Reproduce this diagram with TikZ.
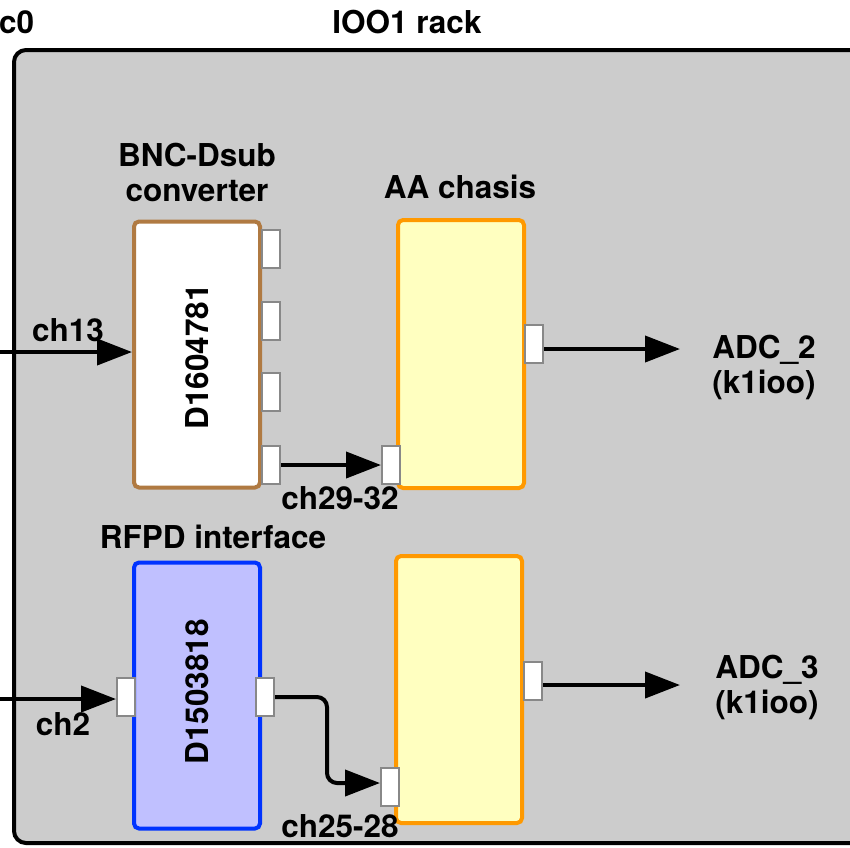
\documentclass[tikz,border=0pt]{standalone}
\usepackage{fontspec}
\setmainfont{TeX Gyre Heros}
\usetikzlibrary{arrows.meta}

\definecolor{rackgray}{HTML}{CCCCCC}
\definecolor{bncbrown}{RGB}{176,122,66}
\definecolor{aaorange}{HTML}{FF9900}
\definecolor{aafill}{HTML}{FFFFC0}
\definecolor{rfpdblue}{HTML}{0033FF}
\definecolor{rfpdfill}{HTML}{C0C0FF}
\definecolor{portgray}{HTML}{888888}

\begin{document}
\begin{tikzpicture}[x=1pt, y=-1pt,
    every node/.style={font=\fontsize{31.5}{35}\selectfont\bfseries, inner sep=0pt},
    box/.style={draw, line width=4pt, rounded corners=5pt, minimum width=126pt, minimum height=266pt},
    port/.style={draw=portgray, fill=white, line width=2pt, minimum width=18pt, minimum height=38pt},
    sig/.style={line width=4pt, -{Triangle[length=35pt,width=26pt]}},
    txt/.style={align=center}]
    \useasboundingbox (0,0) rectangle (850,847);
    \clip (0,0) rectangle (850,847);
    % rack
    \draw [line width=4pt, fill=rackgray, rounded corners=12pt] (14,50) rectangle (880,843);
    \node [anchor=west] (rackname) at (-1,22) {c0};
    \node (racktitle) at (407,22) {IOO1 rack};
    % boxes
    \node [box, draw=bncbrown, fill=white] (bnc) at (197,354.5) {};
    \node [rotate=90] (bncid) at (197,357) {D1604781};
    \node [box, draw=aaorange, fill=aafill, minimum height=268pt] (aa1) at (461,354) {};
    \node [box, draw=rfpdblue, fill=rfpdfill] (rfpd) at (197,695.5) {};
    \node [rotate=90] (rfpdid) at (197,692) {D1503818};
    \node [box, draw=aaorange, fill=aafill, minimum height=267pt] (aa2) at (459,689.5) {};
    % ports
    \node [port] (bnc1) at (271,249) {};
    \node [port] (bnc2) at (271,321) {};
    \node [port] (bnc3) at (271,392) {};
    \node [port] (bnc4) at (271,465) {};
    \node [port] (aa1in) at (391,465) {};
    \node [port] (aa1out) at (534,344) {};
    \node [port] (rfpdin) at (126,697) {};
    \node [port] (rfpdout) at (265,697) {};
    \node [port] (aa2in) at (390,787) {};
    \node [port] (aa2out) at (533,681) {};
    % labels
    \node [txt] (bnclabel) at (197,172) {BNC-Dsub\\converter};
    \node (aalabel) at (460,187) {AA chasis};
    \node (rfpdlabel) at (213,537) {RFPD interface};
    \node (ch13) at (68,330) {ch13};
    \node (ch2) at (63,724) {ch2};
    \node (ch2932) at (340,498) {ch29-32};
    \node (ch2528) at (340,826) {ch25-28};
    \node [txt] (adc2) at (764,367) {ADC\_2\\(k1ioo)};
    \node [txt] (adc3) at (767,687) {ADC\_3\\(k1ioo)};
    % signals
    \coordinate (in13) at (-5,352);
    \coordinate (in2) at (-5,699);
    \coordinate (out2) at (680,349);
    \coordinate (out3) at (680,685);
    \draw [sig] (in13) -- (bnc.west |- in13);
    \draw [sig] (bnc4.east) -- (aa1in.west);
    \draw [sig] (aa1out.east |- out2) -- (out2);
    \draw [sig] (in2) -- (rfpdin.west |- in2);
    \draw [sig, rounded corners=10pt] (rfpdout.east) -- ++(52,0) |- ([yshift=4pt]aa2in.west);
    \draw [sig] (aa2out.east |- out3) -- (out3);
\end{tikzpicture}
\end{document}
